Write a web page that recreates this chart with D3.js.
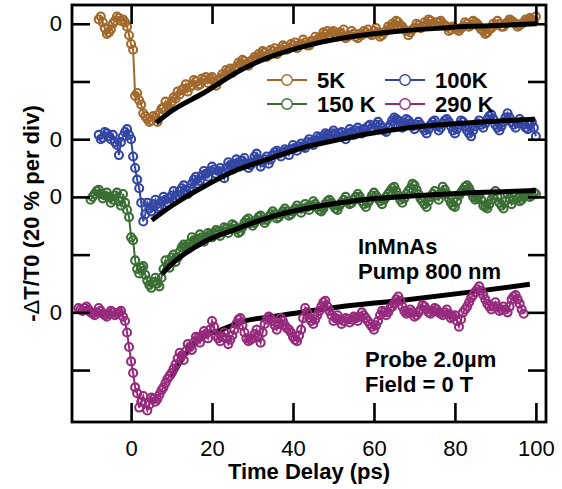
<!DOCTYPE html>
<html>
<head>
<meta charset="utf-8">
<script src="https://cdn.jsdelivr.net/npm/d3@7"></script>
<style>
  html, body { margin: 0; padding: 0; background: #fff; }
  svg { display: block; font-family: "Liberation Sans", Arial, Helvetica, sans-serif; }
</style>
</head>
<body>
<svg id="chart" width="562" height="489"></svg>
<script>
// Pump-probe transmission transients of InMnAs at four temperatures.
// Each trace is -dT/T0 in percent, sampled every 0.5 ps from its first delay.
const sampleStep = 0.5;

const labels = ["5K", "100K", "150 K", "290 K"];
const colors = ["#a2692c", "#3346a4", "#3a6e35", "#962a7c"];
// vertical offset (in %) of each trace's zero line, 20 % per division
const offsets = [120, 80, 60, 20];
const firstDelay = [-8, -8, -10, -13];

const trace5K = [
  1.5, 2.5, 0.5, -1.5, -3.5, -3, -2, 0, 1, 2.5, 2, 1, 1.5, 0.5, -1, -4,
  -7, -9, -25, -24, -26.5, -28, -31, -32, -33, -34, -33.5, -32, -32.5, -34, -31, -29.5, -29, -27, -28.5, -29.5,
  -27, -25.5, -26, -23.5, -24.5, -23, -22.5, -21, -23.5, -22, -21.5, -19.5, -20, -21.5, -21, -19, -19.5, -18.5, -20.5, -19,
  -18.5, -20, -21.5, -20, -19, -17.5, -18, -16, -16.5, -15.5, -17, -15.5, -15, -13.5, -14, -12.5, -13, -14, -14.5, -13,
  -12.5, -11.5, -12, -10.5, -11, -9.5, -10, -11.5, -10.5, -9, -9.5, -8.5, -10.5, -9.5, -9, -7.5, -8, -9, -8.5, -7,
  -7.5, -6.5, -8.5, -7.5, -7, -5.5, -6.5, -7.5, -7.5, -6, -6, -4.5, -5.5, -5, -4.5, -3, -3.5, -2.5, -4, -3,
  -2.5, -3.5, -4.5, -3, -3.5, -2, -5, -4.5, -4, -2.5, -3.5, -4.5, -5, -3.5, -4, -2.5, -3, -2, -3.5, -4,
  -2.5, -1.5, -3, -4.5, -4, -3, -2.5, -1, -1.5, 0, -0.5, 1, 0.5, -0.5, -1, -2, -2.5, -4, -3, -2,
  -1.5, 0, -0.5, -1.5, -1, 0.5, 0, 1.5, 1, 0, -0.5, 0.5, 0.5, 1, 0, -0.5, -1, -2.5, -2, -1,
  -1.5, -2, -2.5, -1.5, -1, 0.5, 0, -1, -0.5, 1, 0.5, 0, -1, -2, -2.5, -3.5, -3, -2, -1.5, 0,
  -0.5, 1, 0, -1, -1, 0, 0.5, 1.5, 1, 0.5, 0, -1, -0.5, 0, 0.5, 1.5, 1, 2, 1.5, 1,
  2.5
];
const trace100K = [
  1.5, 0, 0.5, 2.5, 2, 1, 0, 1.5, -1, -2, -5.5, -1, 1, 2.5, 3.5, 1.5,
  0, -6, -10, -14, -17, -22, -28.5, -26, -22, -24, -25, -22.5, -21, -24, -23.5, -21.5, -20, -21, -22, -20.5,
  -19.5, -18, -20.5, -19.5, -18, -17, -16, -17.5, -19, -17, -15.5, -14, -13, -15.5, -14.5, -12.5, -11, -12, -13, -11,
  -9.5, -10.5, -12, -11, -10, -11.5, -13.5, -10, -8, -9, -10.5, -8.5, -7, -8, -9, -7.5, -6.5, -8.5, -10, -9,
  -8, -6, -5, -7.5, -9.5, -8, -7, -6, -8.5, -7, -5.5, -4.5, -4, -5, -6, -4.5, -3.5, -4, -5.5, -3.5,
  -2, -3, -4, -2.5, -1.5, -2.5, -3, -1, 0, -1, -2, -0.5, 1, 0.5, -0.5, 1, 2, 1.5, 0.5, 2,
  3, 2, 1, 2, 2.5, 1, 0, 2, 3.5, 2.5, 1.5, 3, 4, 3, 2, 3.5, 3, 4.5, 5, 4,
  3.5, 5, 6, 5, 4, 3, 2.5, 4, 5, 6.5, 7.5, 7, 6.5, 5, 4, 5.5, 7, 6.5, 5.5, 4.5,
  3.5, 5, 6, 5, 4, 3, 2, 3.5, 5, 6, 6.5, 4.5, 3, 4, 5.5, 6.5, 7, 6, 4.5, 3,
  2, 3.5, 5, 6.5, 6, 4.5, 3, 2, 1, 3, 4.5, 5.5, 6.5, 5, 4, 5.5, 7, 8, 8.5, 7,
  5, 4, 3, 4.5, 6, 7.5, 9, 7.5, 6, 5, 4, 5.5, 7, 6, 5, 4, 3.5, 5, 6, 4,
  1
];
const trace150K = [
  -1, 0, 1, 2, 2.5, 1, -0.5, 0.5, 1.5, 0, -2, -1, 0.5, 1.5, -1.5, -3, 1, -2, -4.5, -7,
  -14, -15, -22, -25, -26.5, -24.5, -24, -27, -29, -30.5, -31.5, -29.5, -28, -30, -31, -28, -25, -22, -23.5, -24.5,
  -21, -20, -22.5, -21, -19, -17.5, -16.5, -17, -18, -16, -14, -15, -16, -14.5, -13, -14, -15.5, -14, -12.5, -13,
  -14, -12.5, -11.5, -12, -13.5, -12, -10.5, -11, -12.5, -11, -9.5, -10, -11, -12.5, -12, -10.5, -9, -8, -7.5, -9,
  -10, -9, -8, -7, -6.5, -8, -9, -8, -7, -6, -5, -6, -7.5, -7, -6, -5, -4, -5, -6.5, -6,
  -5, -4, -3, -4, -5.5, -4, -2.5, -3.5, -4.5, -3, -1.5, -2.5, -3.5, -4.5, -5, -4, -2.5, -1.5, -1, -2,
  -3, -4, -4.5, -3, -2, -1, 0, -1.5, -2.5, -2, -1, 0, 1, 0, -1.5, -2.5, -3.5, -2, -1, 0.5,
  1.5, 0.5, -0.5, -1.5, -2.5, -1, 0, 1, 2, 3, 3.5, 2, 0.5, -1, -2, -0.5, 1, 2, 3, 4.5,
  4, 2.5, 1, -0.5, -1.5, -2.5, -3.5, -1.5, 0, 1, 2, 0.5, -1, 1, 3.5, 2.5, 1, -0.5, -2, -3,
  -3.5, -1.5, 0.5, 1.5, 2.5, 3.5, 4, 3, 1.5, 0, -1, -0.5, 0.5, -1, -3, -3.5, -4, -2.5, -1, 0.5,
  2, 0, -2, -3, -4, -1.5, 1, -0.5, -2.5, -1, 0.5, -0.5, -1.5, -1, 0, 0.5, 1, 0, 0.5, 1.5,
  1
];
const trace290K = [
  1.5, 1, 0.5, 1.5, 2, 1, 0, -0.5, -1, 0, 1.5, 0.5, -0.5, -1, -1.5, -0.5, 0.5, 0, -1, -0.5, 0, 0.5, -1.5, -3, -7, -12,
  -17, -21, -26, -28, -33, -31, -29, -31.5, -34, -32, -29.5, -30, -31, -30, -28.5, -27, -26, -24.5, -23, -22,
  -21, -19.5, -18, -16, -14, -15, -16.5, -13.5, -11, -12, -13, -10.5, -8.5, -9, -10.5, -8, -6.5, -7.5, -9, -6,
  -3, -5, -8, -9, -10, -8.5, -7, -9, -11, -9.5, -8, -6, -4, -2.5, -2, -4.5, -7, -9, -10, -9.5,
  -9, -7.5, -6, -8.5, -10.5, -7, -4, -2.5, -1.5, -2, -3, -4.5, -6, -4, -2, -3, -4.5, -5.5, -6, -7,
  -8.5, -9.5, -10, -8, -6, -2, 1.5, 0, -2, -3, -4, -2.5, -1, 0.5, 2, 3.5, 4, 2, 0.5, -1,
  -3, -2, -1, -2.5, -4, -3, -2, -2.5, -3.5, -2.5, -1.5, -2, -3, -1.5, 0, -1, -2, -3, -4, -5,
  -6, -4.5, -3, -1, 0.5, 0, -1, 0, 1.5, 2, 3, 4.5, 5.5, 4, 2, 0.5, -0.5, 0, 1, 0,
  -1.5, -1, 0, 1, 2.5, 2, 1, 0, -0.5, 0.5, 1.5, 1, 0, -0.5, -1, 0, 1, -0.5, -2, -1.5,
  -1, -3, -5, -2.5, 0, 1, 2, 3.5, 5, 6, 7, 8, 9, 7.5, 6, 4.5, 3, 2, 1, 2,
  3.5, 2, 0.5, 1, 2, 1, 0, 2, 4.5, 5.5, 6, 4.5, 3, 1,
  -0.5
];
const traces = [trace5K, trace100K, trace150K, trace290K];

// Exponential-recovery fits (delay in ps, value in %)
const fitDelay5K = [6.2, 9.6, 17.9, 27.7, 34.3, 42.5, 50.8, 59, 67.2, 75.5, 83.7, 91.9, 100.2];
const fitValue5K = [-34.4, -30.6, -24.0, -15.6, -11.5, -7.9, -5.3, -3.6, -2.4, -1.6, -0.9, -0.5, 0];
const fitDelay100K = [5.1, 9.6, 17.9, 26.1, 34.3, 42.5, 50.8, 59, 67.2, 75.5, 83.7, 91.9, 99.8];
const fitValue100K = [-28.1, -23.5, -16.5, -10.7, -6.7, -2.9, -0.3, 2.0, 3.7, 4.9, 5.7, 6.4, 6.9];
const fitDelay150K = [7.6, 9.6, 17.9, 26.1, 34.3, 42.5, 50.8, 59, 67.2, 75.5, 83.7, 91.9, 100];
const fitValue150K = [-26.7, -23.8, -15.7, -11.1, -7.0, -4.2, -2.2, -0.7, 0.1, 0.8, 1.4, 1.8, 2.2];
const fitDelay290K = [10, 12.9, 16.2, 22, 28.6, 34.3, 50.8, 67.2, 83.7, 98.5];
const fitValue290K = [-22.5, -15.5, -9.7, -6.2, -2.8, -1.6, 1.8, 4.2, 7.0, 9.7];
const fitDelays = [fitDelay5K, fitDelay100K, fitDelay150K, fitDelay290K];
const fitValues = [fitValue5K, fitValue100K, fitValue150K, fitValue290K];

const xTicks = [0, 20, 40, 60, 80, 100];
const yTicks = [0, 20, 40, 60, 80, 100, 120];

const annotations = [["InMnAs", "Pump 800 nm"], ["Probe 2.0\u00b5m", "Field = 0 T"]];

// ---- layout ----
const svg = d3.select("#chart");
const plotLeft = 72, plotRight = 546, plotTop = 5, plotBottom = 422;
const x = d3.scaleLinear().domain([-14.6, 102.5]).range([plotLeft, plotRight]);
const y = d3.scaleLinear().domain([-18, 126.5]).range([plotBottom, plotTop]);

svg.append("rect").attr("width", 562).attr("height", 489).attr("fill", "#fff");

const series = labels.map((name, i) => ({
  name,
  color: colors[i],
  points: traces[i].map((v, k) => ({ t: firstDelay[i] + k * sampleStep, v: v + offsets[i] })),
  fit: fitDelays[i].map((t, k) => ({ t, v: fitValues[i][k] + offsets[i] }))
}));

const plot = svg.append("g");
const dataLine = d3.line().x(d => x(d.t)).y(d => y(d.v));
const fitLine = d3.line().x(d => x(d.t)).y(d => y(d.v)).curve(d3.curveMonotoneX);

function drawFit(s) {
  plot.append("path").datum(s.fit)
    .attr("d", fitLine).attr("fill", "none")
    .attr("stroke", "#000").attr("stroke-width", 5);
}
function drawTrace(s) {
  const g = plot.append("g");
  g.append("path").datum(s.points)
    .attr("d", dataLine).attr("fill", "none")
    .attr("stroke", s.color).attr("stroke-width", 2);
  g.selectAll("circle").data(s.points).join("circle")
    .attr("cx", d => x(d.t)).attr("cy", d => y(d.v)).attr("r", 4)
    .attr("fill", "none").attr("stroke", s.color).attr("stroke-width", 2.1);
}

drawFit(series[3]);
series.forEach(drawTrace);
series.slice(0, 3).forEach(drawFit);

// ---- axes (ticks point inward on all four sides) ----
const zeroLines = new Set(offsets);
const axisLeft = d3.axisLeft(y).tickValues(yTicks).tickSize(-18).tickPadding(10)
  .tickFormat(d => zeroLines.has(d) ? "0" : "");
const axisRight = d3.axisRight(y).tickValues(yTicks).tickSize(-18).tickFormat("");
const axisBottom = d3.axisBottom(x).tickValues(xTicks).tickSize(-19).tickPadding(18);
const axisTop = d3.axisTop(x).tickValues(xTicks).tickSize(-19).tickFormat("");

function styleAxis(g) {
  g.select(".domain").remove();
  g.selectAll(".tick line").attr("stroke", "#000").attr("stroke-width", 2.6);
  g.selectAll(".tick text").attr("fill", "#000")
    .style("font-family", "'Liberation Sans', Arial, sans-serif")
    .style("font-size", "22px");
}
svg.append("g").attr("transform", `translate(${plotLeft},0)`).call(axisLeft).call(styleAxis);
svg.append("g").attr("transform", `translate(${plotRight},0)`).call(axisRight).call(styleAxis);
svg.append("g").attr("transform", `translate(0,${plotBottom})`).call(axisBottom).call(styleAxis);
svg.append("g").attr("transform", `translate(0,${plotTop})`).call(axisTop).call(styleAxis);

svg.append("rect")
  .attr("x", plotLeft).attr("y", plotTop)
  .attr("width", plotRight - plotLeft).attr("height", plotBottom - plotTop)
  .attr("fill", "none").attr("stroke", "#000").attr("stroke-width", 2.8);

// ---- axis titles ----
svg.append("text")
  .attr("x", (plotLeft + plotRight) / 2).attr("y", 479)
  .attr("text-anchor", "middle")
  .style("font-size", "22px").style("font-weight", "bold")
  .text("Time Delay (ps)");

const yTitle = svg.append("text")
  .attr("transform", `translate(39,${(plotTop + plotBottom) / 2}) rotate(-90)`)
  .attr("text-anchor", "middle")
  .style("font-size", "22px").style("font-weight", "bold");
yTitle.append("tspan").text("-");
yTitle.append("tspan").style("font-weight", "normal").text("\u0394");
yTitle.append("tspan").text("T/T0 (20 % per div)");

// ---- legend ----
const legendCols = [267, 385];
const legendRows = [80, 104];
labels.forEach((name, i) => {
  const lx = legendCols[i % 2], ly = legendRows[Math.floor(i / 2)];
  const g = svg.append("g");
  g.append("line").attr("x1", lx).attr("x2", lx + 40).attr("y1", ly).attr("y2", ly)
    .attr("stroke", colors[i]).attr("stroke-width", 2);
  g.append("circle").attr("cx", lx + 20).attr("cy", ly).attr("r", 5.2)
    .attr("fill", "#fff").attr("stroke", colors[i]).attr("stroke-width", 1.4);
  g.append("text").attr("x", lx + 50).attr("y", ly + 8)
    .style("font-size", "22px").style("font-weight", "bold").text(name);
});

// ---- sample / measurement notes ----
const notePos = [[358, 254], [365, 367]];
annotations.forEach((lines, i) => {
  lines.forEach((line, k) => {
    svg.append("text").attr("x", notePos[i][0]).attr("y", notePos[i][1] + k * 24.5)
      .style("font-size", "22px").style("font-weight", "bold").text(line);
  });
});
</script>
</body>
</html>
